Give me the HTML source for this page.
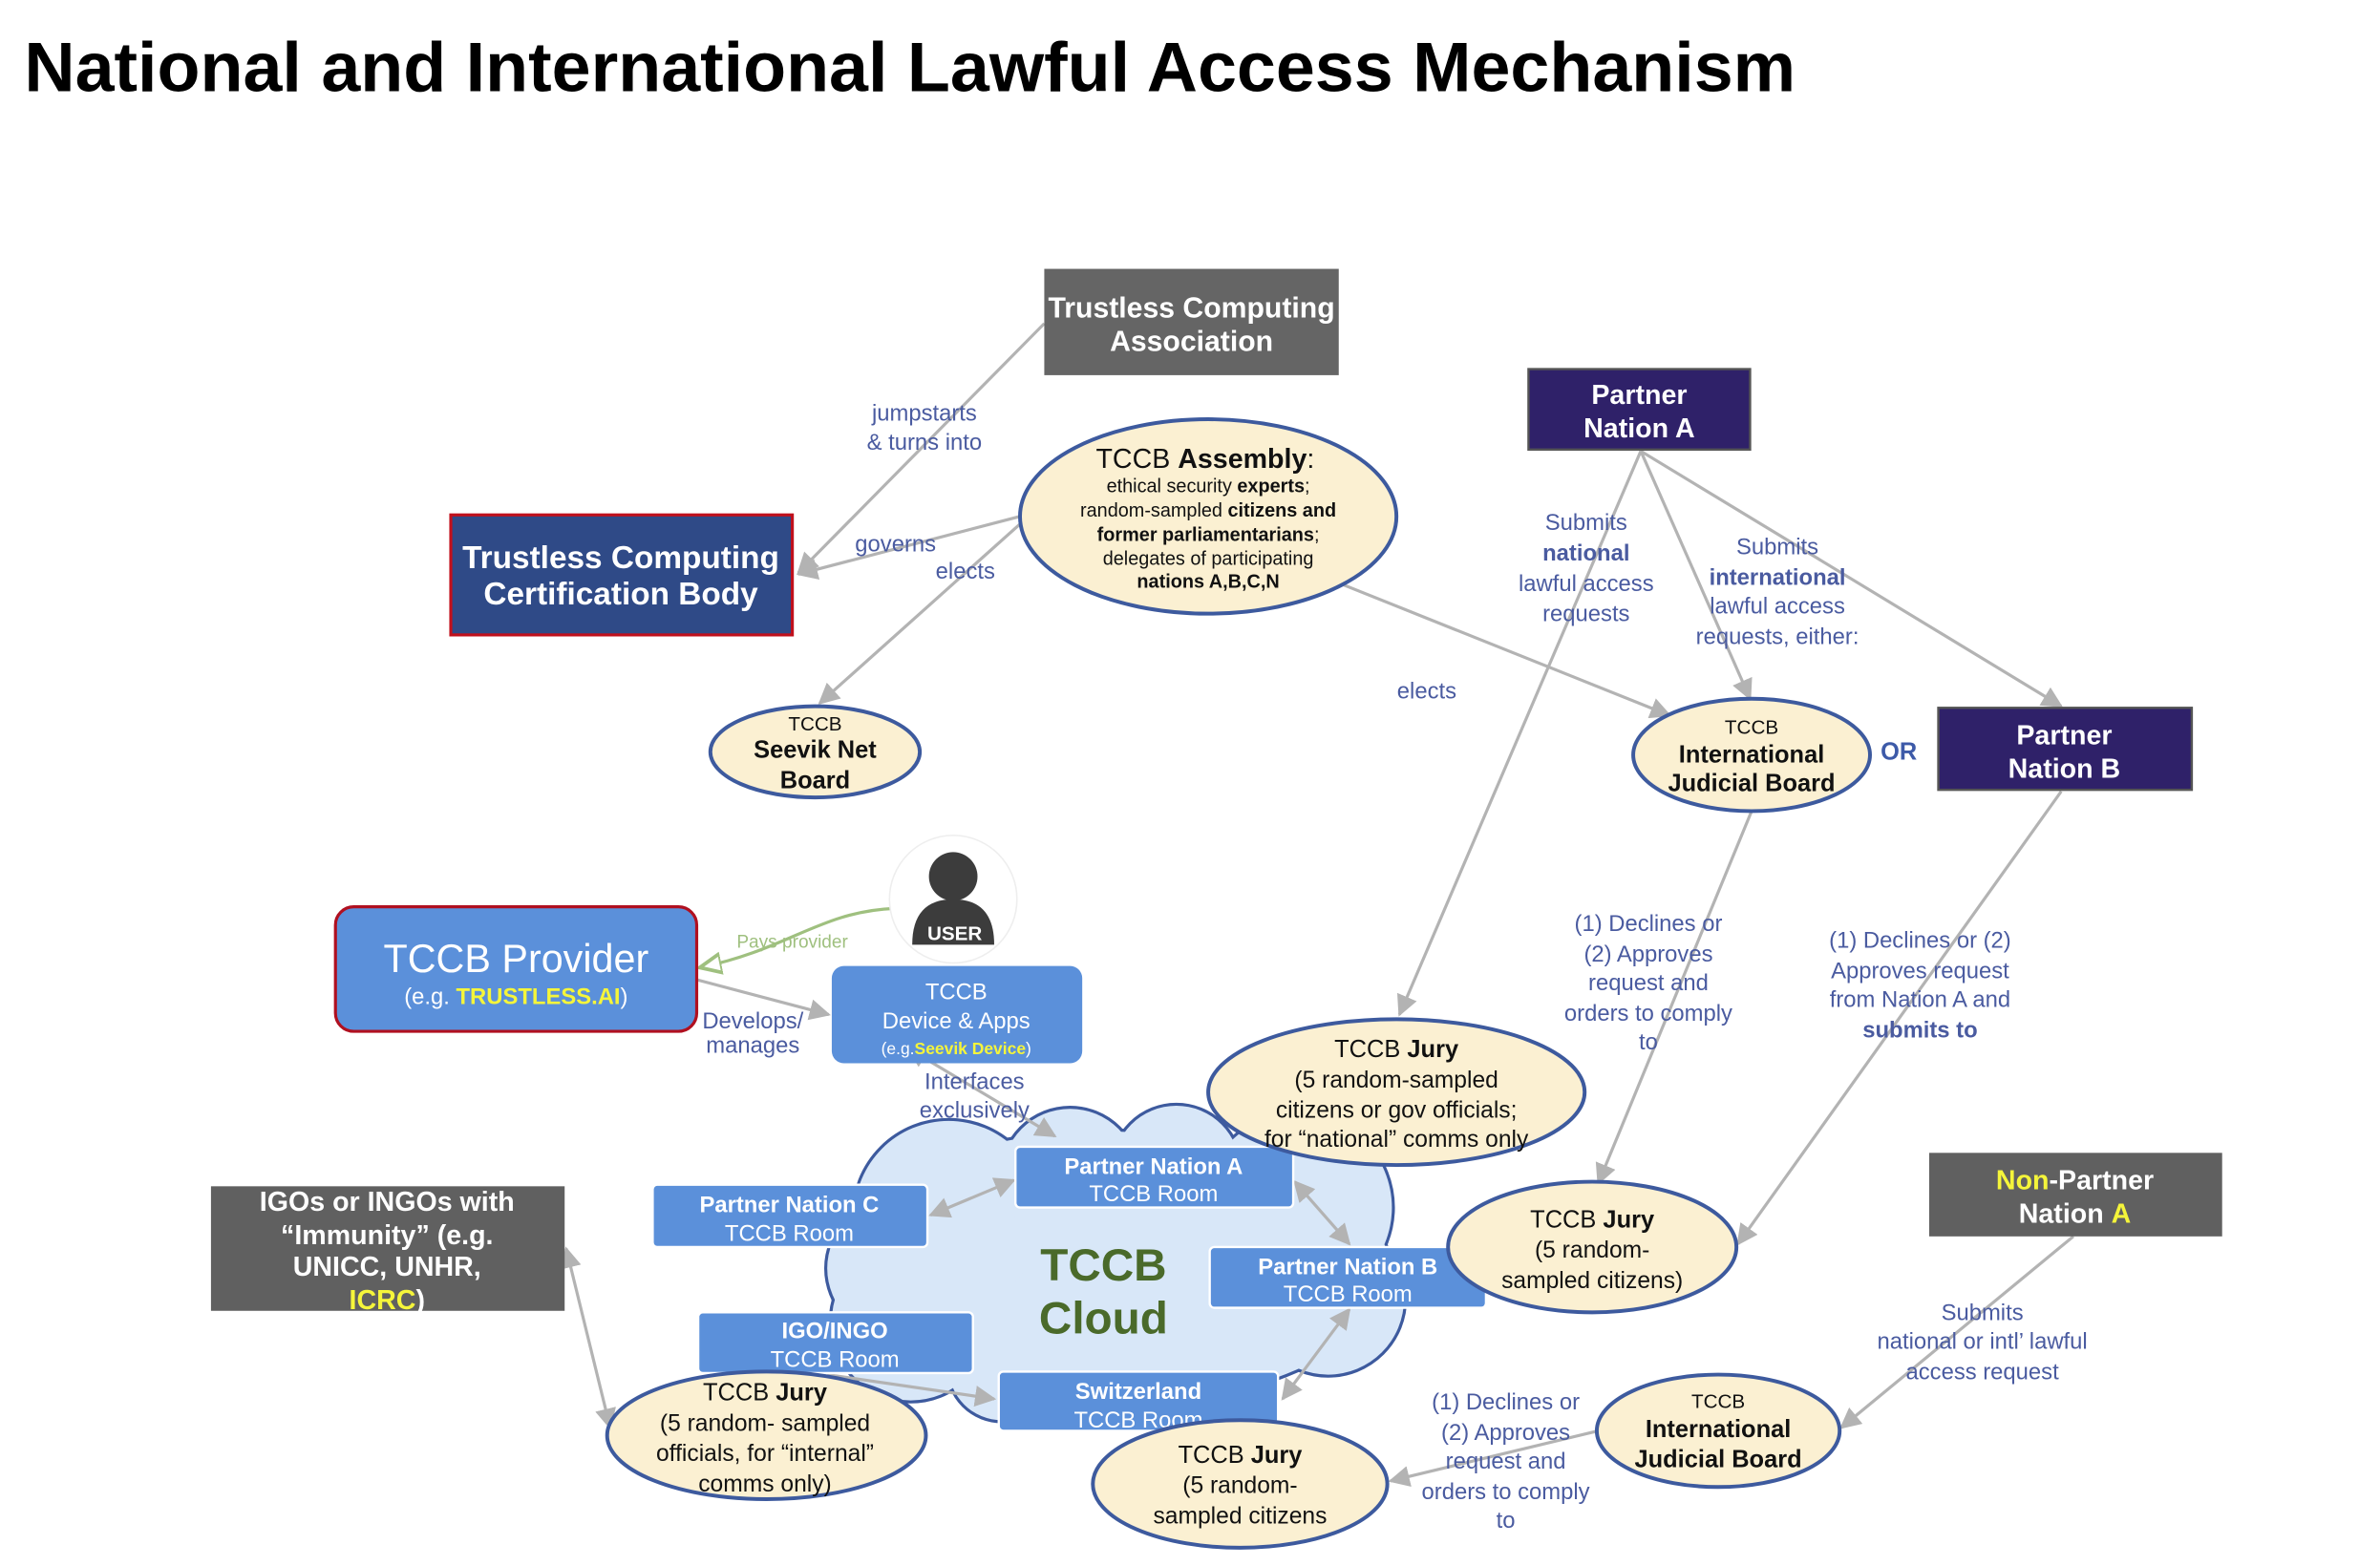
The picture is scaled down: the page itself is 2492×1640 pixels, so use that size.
<!DOCTYPE html>
<html><head><meta charset="utf-8"><style>
html,body{margin:0;padding:0;background:#fff;}
svg{display:block;}
text{font-family:"Liberation Sans",Arial,sans-serif;}
.l{fill:#4a5ba0;font-size:15px;text-anchor:middle;}
.w{fill:#fff;text-anchor:middle;}
.k{fill:#111;text-anchor:middle;}
.c{stroke:#b3b3b3;stroke-width:2;fill:none;}
</style></head><body>
<svg width="2492" height="1640" viewBox="0 0 1568 1031" preserveAspectRatio="none" xmlns="http://www.w3.org/2000/svg">
<defs>
<marker id="a" viewBox="0 0 10 10" refX="9" refY="5" markerWidth="7" markerHeight="7" orient="auto-start-reverse"><path d="M0,0 L10,5 L0,10 z" fill="#b3b3b3"/></marker>
<marker id="g" viewBox="0 0 10 10" refX="9" refY="5" markerWidth="8" markerHeight="8" orient="auto"><path d="M0,1 L9,5 L0,9 z" fill="#fff" stroke="#9fc07f" stroke-width="1.5"/></marker>
</defs>
<rect width="1568" height="1031" fill="#fff"/>
<text x="16" y="60" font-size="46" font-weight="bold" fill="#000" textLength="1167" lengthAdjust="spacingAndGlyphs">National and International Lawful Access Mechanism</text>

<!-- cloud -->
<g stroke="#3d5a9e" stroke-width="4" fill="#3d5a9e">
<ellipse cx="730" cy="835" rx="185" ry="90"/>
<circle cx="625" cy="800" r="62"/><circle cx="705" cy="775" r="45"/><circle cx="775" cy="770" r="42"/>
<circle cx="855" cy="795" r="62"/><circle cx="875" cy="855" r="50"/><circle cx="600" cy="870" r="52"/>
<circle cx="740" cy="895" r="42"/><circle cx="660" cy="900" r="35"/>
</g>
<g fill="#d8e7f8">
<ellipse cx="730" cy="835" rx="185" ry="90"/>
<circle cx="625" cy="800" r="62"/><circle cx="705" cy="775" r="45"/><circle cx="775" cy="770" r="42"/>
<circle cx="855" cy="795" r="62"/><circle cx="875" cy="855" r="50"/><circle cx="600" cy="870" r="52"/>
<circle cx="740" cy="895" r="42"/><circle cx="660" cy="900" r="35"/>
</g>
<text x="727" y="843" font-size="30" font-weight="bold" fill="#4a6a2a" text-anchor="middle">TCCB</text>
<text x="727" y="878" font-size="30" font-weight="bold" fill="#4a6a2a" text-anchor="middle">Cloud</text>

<!-- connectors -->
<line class="c" x1="688" y1="213" x2="526" y2="377" marker-end="url(#a)"/>
<line class="c" x1="672" y1="340" x2="526" y2="378" marker-end="url(#a)" stroke-width="2.5"/>
<line class="c" x1="672" y1="345" x2="540" y2="463" marker-end="url(#a)"/>
<line class="c" x1="885" y1="385" x2="1100" y2="471" marker-end="url(#a)"/>
<line class="c" x1="1081" y1="297" x2="922" y2="668" marker-end="url(#a)"/>
<line class="c" x1="1081" y1="297" x2="1153" y2="460" marker-end="url(#a)"/>
<line class="c" x1="1081" y1="297" x2="1358" y2="465" marker-end="url(#a)"/>
<line class="c" x1="1154" y1="534" x2="1053" y2="779" marker-end="url(#a)"/>
<line class="c" x1="1358" y1="521" x2="1145" y2="819" marker-end="url(#a)"/>
<line class="c" x1="1366" y1="814" x2="1213" y2="940" marker-end="url(#a)"/>
<line class="c" x1="1053" y1="942" x2="916" y2="975" marker-end="url(#a)"/>
<path d="M590,598 C540,600 520,625 461,637" fill="none" stroke="#9fc07f" stroke-width="2" marker-end="url(#g)"/>
<line class="c" x1="459" y1="645" x2="546" y2="668" marker-end="url(#a)"/>
<line class="c" x1="598" y1="690" x2="695" y2="748" marker-start="url(#a)" marker-end="url(#a)"/>
<line class="c" x1="613" y1="800" x2="668" y2="777" marker-start="url(#a)" marker-end="url(#a)"/>
<line class="c" x1="853" y1="778" x2="889" y2="819" marker-start="url(#a)" marker-end="url(#a)"/>
<line class="c" x1="889" y1="862" x2="845" y2="921" marker-start="url(#a)" marker-end="url(#a)"/>
<line class="c" x1="545" y1="905" x2="655" y2="921" marker-end="url(#a)"/>
<line class="c" x1="373" y1="822" x2="402" y2="940" marker-start="url(#a)" marker-end="url(#a)"/>

<!-- top boxes -->
<rect x="688" y="177" width="194" height="70" fill="#656565"/>
<text class="w" x="785" y="209" font-size="19" font-weight="bold">Trustless Computing</text>
<text class="w" x="785" y="231" font-size="19" font-weight="bold">Association</text>

<rect x="297" y="339" width="225" height="79" fill="#2f4a87" stroke="#c0101c" stroke-width="2"/>
<text class="w" x="409" y="374" font-size="21" font-weight="bold">Trustless Computing</text>
<text class="w" x="409" y="398" font-size="21" font-weight="bold">Certification Body</text>

<ellipse cx="796" cy="340" rx="124" ry="64" fill="#fbf0d2" stroke="#3d5a9e" stroke-width="2.5"/>
<text class="k" x="794" y="308" font-size="18">TCCB <tspan font-weight="bold">Assembly</tspan>:</text>
<text class="k" x="796" y="324" font-size="12.5">ethical security <tspan font-weight="bold">experts</tspan>;</text>
<text class="k" x="796" y="340" font-size="12.5">random-sampled <tspan font-weight="bold">citizens and</tspan></text>
<text class="k" x="796" y="356" font-size="12.5" font-weight="bold">former parliamentarians<tspan font-weight="normal">;</tspan></text>
<text class="k" x="796" y="372" font-size="12.5">delegates of participating</text>
<text class="k" x="796" y="387" font-size="12.5" font-weight="bold">nations A,B,C,N</text>

<rect x="1007" y="243" width="146" height="53" fill="#2f2169" stroke="#555" stroke-width="1.5"/>
<text class="w" x="1080" y="266" font-size="18" font-weight="bold">Partner</text>
<text class="w" x="1080" y="288" font-size="18" font-weight="bold">Nation A</text>

<rect x="1277" y="466" width="167" height="54" fill="#2f2169" stroke="#555" stroke-width="1.5"/>
<text class="w" x="1360" y="490" font-size="18" font-weight="bold">Partner</text>
<text class="w" x="1360" y="512" font-size="18" font-weight="bold">Nation B</text>

<ellipse cx="1154" cy="497" rx="78" ry="37" fill="#fbf0d2" stroke="#3d5a9e" stroke-width="2.5"/>
<text class="k" x="1154" y="483" font-size="13">TCCB</text>
<text class="k" x="1154" y="502" font-size="16" font-weight="bold">International</text>
<text class="k" x="1154" y="521" font-size="16" font-weight="bold">Judicial Board</text>
<text x="1251" y="500" font-size="16" font-weight="bold" fill="#3d5aa8" text-anchor="middle">OR</text>

<ellipse cx="537" cy="495" rx="69" ry="30" fill="#fbf0d2" stroke="#3d5a9e" stroke-width="2.5"/>
<text class="k" x="537" y="481" font-size="13">TCCB</text>
<text class="k" x="537" y="499" font-size="16" font-weight="bold">Seevik Net</text>
<text class="k" x="537" y="519" font-size="16" font-weight="bold">Board</text>

<!-- user -->
<circle cx="628" cy="592" r="42" fill="#fff" stroke="#eee" stroke-width="1"/>
<circle cx="628" cy="577" r="16" fill="#3c3c3c"/>
<path d="M601,622 Q601,592 628,592 Q655,592 655,622 Z" fill="#3c3c3c"/>
<text class="w" x="629" y="619" font-size="13" font-weight="bold">USER</text>

<!-- provider -->
<rect x="221" y="597" width="238" height="82" rx="12" fill="#5b90da" stroke="#b01020" stroke-width="2"/>
<text class="w" x="340" y="640" font-size="26">TCCB Provider</text>
<text class="w" x="340" y="661" font-size="15">(e.g. <tspan fill="#f5f53a" font-weight="bold">TRUSTLESS.AI</tspan>)</text>

<rect x="548" y="636" width="165" height="64" rx="8" fill="#5b90da"/>
<text class="w" x="630" y="658" font-size="15">TCCB</text>
<text class="w" x="630" y="677" font-size="15">Device &amp; Apps</text>
<text class="w" x="630" y="694" font-size="11">(e.g.<tspan fill="#f5f53a" font-weight="bold">Seevik Device</tspan>)</text>

<!-- rooms -->
<g stroke="#fff" stroke-width="1.5" fill="#5b90da">
<rect x="669" y="755" width="183" height="40" rx="3"/>
<rect x="430" y="780" width="181" height="41" rx="3"/>
<rect x="797" y="821" width="182" height="40" rx="3"/>
<rect x="460" y="864" width="181" height="40" rx="3"/>
<rect x="658" y="903" width="184" height="39" rx="3"/>
</g>
<text class="w" x="760" y="773" font-size="15" font-weight="bold">Partner Nation A</text>
<text class="w" x="760" y="791" font-size="15">TCCB Room</text>
<text class="w" x="520" y="798" font-size="15" font-weight="bold">Partner Nation C</text>
<text class="w" x="520" y="817" font-size="15">TCCB Room</text>
<text class="w" x="888" y="839" font-size="15" font-weight="bold">Partner Nation B</text>
<text class="w" x="888" y="857" font-size="15">TCCB Room</text>
<text class="w" x="550" y="881" font-size="15" font-weight="bold">IGO/INGO</text>
<text class="w" x="550" y="900" font-size="15">TCCB Room</text>
<text class="w" x="750" y="921" font-size="15" font-weight="bold">Switzerland</text>
<text class="w" x="750" y="940" font-size="15">TCCB Room</text>

<!-- juries -->
<ellipse cx="920" cy="719" rx="124" ry="48" fill="#fbf0d2" stroke="#3d5a9e" stroke-width="2.5"/>
<text class="k" x="920" y="696" font-size="16">TCCB <tspan font-weight="bold">Jury</tspan></text>
<text class="k" x="920" y="716" font-size="15.5">(5 random-sampled</text>
<text class="k" x="920" y="736" font-size="15.5">citizens or gov officials;</text>
<text class="k" x="920" y="755" font-size="15.5">for “national” comms only</text>

<ellipse cx="1049" cy="821" rx="95" ry="43" fill="#fbf0d2" stroke="#3d5a9e" stroke-width="2.5"/>
<text class="k" x="1049" y="808" font-size="16">TCCB <tspan font-weight="bold">Jury</tspan></text>
<text class="k" x="1049" y="828" font-size="15.5">(5 random-</text>
<text class="k" x="1049" y="848" font-size="15.5">sampled citizens)</text>

<ellipse cx="505" cy="945" rx="105" ry="42" fill="#fbf0d2" stroke="#3d5a9e" stroke-width="2.5"/>
<text class="k" x="504" y="922" font-size="16">TCCB <tspan font-weight="bold">Jury</tspan></text>
<text class="k" x="504" y="942" font-size="15.5">(5 random- sampled</text>
<text class="k" x="504" y="962" font-size="15.5">officials, for “internal”</text>
<text class="k" x="504" y="982" font-size="15.5">comms only)</text>

<ellipse cx="817" cy="977" rx="97" ry="42" fill="#fbf0d2" stroke="#3d5a9e" stroke-width="2.5"/>
<text class="k" x="817" y="963" font-size="16">TCCB <tspan font-weight="bold">Jury</tspan></text>
<text class="k" x="817" y="983" font-size="15.5">(5 random-</text>
<text class="k" x="817" y="1003" font-size="15.5">sampled citizens</text>

<ellipse cx="1132" cy="942" rx="80" ry="37" fill="#fbf0d2" stroke="#3d5a9e" stroke-width="2.5"/>
<text class="k" x="1132" y="927" font-size="13">TCCB</text>
<text class="k" x="1132" y="946" font-size="16" font-weight="bold">International</text>
<text class="k" x="1132" y="966" font-size="16" font-weight="bold">Judicial Board</text>

<!-- gray boxes -->
<rect x="139" y="781" width="233" height="82" fill="#606060"/>
<text class="w" x="255" y="797" font-size="18" font-weight="bold">IGOs or INGOs with</text>
<text class="w" x="255" y="819" font-size="18" font-weight="bold">“Immunity” (e.g.</text>
<text class="w" x="255" y="840" font-size="18" font-weight="bold" fill="#f5f53a">UNICC, UNHR,</text>
<text class="w" x="255" y="862" font-size="18" font-weight="bold"><tspan fill="#f5f53a">ICRC</tspan>)</text>

<rect x="1271" y="759" width="193" height="55" fill="#606060"/>
<text class="w" x="1367" y="783" font-size="18" font-weight="bold"><tspan fill="#f5f53a">Non</tspan>-Partner</text>
<text class="w" x="1367" y="805" font-size="18" font-weight="bold">Nation <tspan fill="#f5f53a">A</tspan></text>

<!-- labels -->
<text class="l" x="609" y="277">jumpstarts</text>
<text class="l" x="609" y="296">&amp; turns into</text>
<text class="l" x="590" y="363">governs</text>
<text class="l" x="636" y="381">elects</text>
<text class="l" x="940" y="460">elects</text>
<text class="l" x="1045" y="349">Submits</text>
<text class="l" x="1045" y="369" font-weight="bold">national</text>
<text class="l" x="1045" y="389">lawful access</text>
<text class="l" x="1045" y="409">requests</text>
<text class="l" x="1171" y="365">Submits</text>
<text class="l" x="1171" y="385" font-weight="bold">international</text>
<text class="l" x="1171" y="404">lawful access</text>
<text class="l" x="1171" y="424">requests, either:</text>
<text class="l" x="1086" y="613">(1) Declines or</text>
<text class="l" x="1086" y="633">(2) Approves</text>
<text class="l" x="1086" y="652">request and</text>
<text class="l" x="1086" y="672">orders to comply</text>
<text class="l" x="1086" y="691">to</text>
<text class="l" x="1265" y="624">(1) Declines or (2)</text>
<text class="l" x="1265" y="644">Approves request</text>
<text class="l" x="1265" y="663">from Nation A and</text>
<text class="l" x="1265" y="683" font-weight="bold">submits to</text>
<text class="l" x="1306" y="869">Submits</text>
<text class="l" x="1306" y="888">national or intl’ lawful</text>
<text class="l" x="1306" y="908">access request</text>
<text class="l" x="992" y="928">(1) Declines or</text>
<text class="l" x="992" y="948">(2) Approves</text>
<text class="l" x="992" y="967">request and</text>
<text class="l" x="992" y="987">orders to comply</text>
<text class="l" x="992" y="1006">to</text>
<text class="l" x="642" y="717">Interfaces</text>
<text class="l" x="642" y="736">exclusively</text>
<text class="l" x="496" y="677" font-size="12">Develops/</text>
<text class="l" x="496" y="693" font-size="12">manages</text>
<text x="522" y="624" font-size="12" fill="#9fc07f" text-anchor="middle">Pays provider</text>
</svg>
</body></html>
